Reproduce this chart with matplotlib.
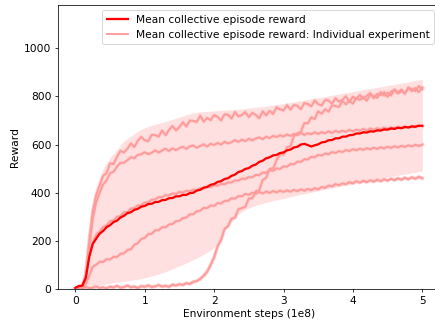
import numpy as np
import matplotlib.pyplot as plt

plt.rcParams['font.size'] = 11.2

# environment steps (x 1e8), logged every 5e6 steps
steps = np.arange(101) * 0.05

mean_reward = [
    5, 12, 14, 46, 133, 187, 209, 230, 241, 257,
    265, 278, 284, 297, 304, 315, 319, 329, 333, 342,
    345, 353, 354, 361, 362, 369, 370, 377, 378, 385,
    385, 391, 391, 398, 400, 409, 412, 421, 424, 433,
    436, 445, 448, 457, 460, 470, 475, 486, 490, 499,
    502, 512, 517, 528, 533, 543, 547, 555, 557, 565,
    567, 576, 579, 588, 591, 600, 603, 598, 592, 597,
    601, 609, 611, 618, 619, 626, 626, 633, 633, 639,
    640, 646, 646, 651, 650, 655, 654, 659, 658, 663,
    662, 667, 665, 670, 668, 673, 671, 675, 674, 678,
    678,
]

run_a = [
    0, 3, 8, 60, 200, 320, 390, 430, 470, 482,
    522, 518, 549, 574, 567, 583, 605, 590, 616, 632,
    618, 614, 641, 639, 633, 658, 639, 661, 677, 659,
    673, 693, 675, 700, 698, 694, 720, 695, 711, 701,
    723, 715, 700, 725, 724, 708, 735, 717, 723, 735,
    714, 732, 723, 709, 738, 721, 740, 727, 755, 746,
    742, 764, 745, 764, 761, 747, 772, 769, 759, 784,
    768, 762, 785, 783, 770, 793, 778, 786, 801, 777,
    799, 789, 806, 790, 802, 814, 793, 810, 805, 818,
    798, 820, 827, 811, 823, 812, 838, 822, 835, 818,
    837,
]

run_b = [
    0, 2, 6, 45, 170, 290, 360, 400, 434, 452,
    481, 487, 508, 525, 524, 535, 548, 543, 557, 560,
    568, 560, 566, 576, 567, 575, 583, 573, 584, 577,
    585, 591, 582, 593, 596, 587, 594, 601, 592, 603,
    598, 607, 600, 612, 605, 609, 619, 611, 621, 614,
    624, 617, 625, 630, 622, 633, 627, 636, 631, 639,
    633, 642, 636, 644, 639, 648, 640, 647, 643, 651,
    644, 652, 647, 655, 648, 657, 651, 658, 653, 661,
    655, 662, 657, 665, 658, 667, 661, 668, 663, 671,
    665, 672, 667, 674, 669, 676, 671, 678, 673, 680,
    676,
]

run_c = [
    0, 3, 5, 22, 55, 92, 101, 113, 112, 124,
    122, 134, 133, 146, 148, 162, 165, 184, 190, 208,
    212, 228, 229, 244, 244, 257, 256, 268, 270, 282,
    283, 295, 297, 310, 311, 323, 325, 337, 336, 347,
    345, 357, 355, 366, 366, 377, 375, 386, 385, 395,
    391, 400, 395, 403, 397, 405, 399, 407, 401, 409,
    403, 410, 404, 412, 406, 414, 408, 416, 410, 419,
    414, 424, 420, 430, 426, 436, 431, 439, 435, 444,
    439, 448, 442, 450, 444, 452, 446, 454, 448, 456,
    450, 458, 452, 460, 454, 462, 456, 464, 458, 466,
    460,
]

run_d = [
    0, 6, 2, 9, 3, 5, 11, 4, 7, 2,
    10, 6, 13, 5, 8, 14, 7, 10, 4, 12,
    9, 15, 8, 11, 16, 10, 13, 9, 18, 14,
    20, 17, 24, 21, 30, 33, 42, 55, 72, 100,
    132, 178, 204, 250, 261, 292, 296, 332, 336, 342,
    376, 377, 406, 410, 453, 462, 499, 501, 535, 560,
    558, 589, 593, 635, 647, 653, 689, 688, 713, 706,
    738, 728, 747, 737, 763, 760, 756, 781, 767, 783,
    770, 795, 785, 797, 782, 807, 802, 794, 818, 803,
    815, 804, 829, 817, 829, 812, 835, 831, 822, 843,
    830,
]

run_e = [
    0, 11, 13, 52, 148, 193, 225, 238, 258, 264,
    282, 285, 300, 303, 319, 320, 334, 336, 347, 348,
    359, 360, 371, 372, 382, 381, 390, 389, 397, 395,
    403, 401, 408, 406, 413, 411, 419, 417, 425, 423,
    431, 429, 437, 435, 443, 442, 451, 450, 459, 457,
    465, 464, 474, 473, 484, 483, 493, 491, 501, 499,
    509, 508, 519, 518, 529, 528, 539, 538, 549, 547,
    557, 554, 563, 560, 569, 565, 573, 569, 577, 573,
    581, 576, 583, 578, 585, 580, 587, 582, 589, 584,
    591, 586, 593, 588, 595, 590, 597, 592, 599, 594,
    600,
]

# spread across experiments, every 1e7 steps
band_steps = np.arange(51) * 0.1
band_lo = [
    0, 3, 8, 13, 18, 24, 28, 32, 36, 40,
    46, 54, 62, 72, 84, 96, 108, 122, 136, 152,
    172, 215, 262, 298, 322, 336, 347, 356, 363, 370,
    376, 383, 390, 396, 402, 408, 414, 420, 426, 432,
    438, 444, 450, 455, 460, 465, 470, 475, 480, 485,
    490,
]
band_hi = [
    8, 25, 250, 425, 500, 545, 580, 615, 635, 655,
    670, 680, 688, 696, 705, 714, 724, 732, 736, 738,
    740, 742, 744, 746, 748, 752, 755, 758, 762, 766,
    770, 775, 780, 785, 790, 795, 800, 805, 810, 815,
    820, 825, 830, 835, 840, 845, 850, 855, 860, 866,
    872,
]

runs = [run_a, run_b, run_c, run_d, run_e]

fig = plt.figure(figsize=(6.4, 4.78), dpi=68)
ax = fig.add_axes([58 / 435, 36 / 325, 381.4 / 435, 284 / 325])

ax.fill_between(band_steps, band_lo, band_hi, color='#ffe0e0', lw=0, zorder=1)

for r in runs:
    ax.plot(steps, r, color='#ffcdcd', lw=3.8, zorder=2)
for i, r in enumerate(runs):
    ax.plot(steps, r, color='#ff9a9a', lw=2, zorder=3,
            label='Mean collective episode reward: Individual experiment' if i == 0 else None)

ax.plot(steps, mean_reward, color='red', lw=2.4, zorder=4,
        label='Mean collective episode reward')

handles, labels = ax.get_legend_handles_labels()
ax.legend(handles[::-1], labels[::-1], loc='upper right')

ax.set_xlim(-0.25, 5.25)
ax.set_ylim(0, 1180)
ax.set_yticks([0, 200, 400, 600, 800, 1000])
ax.set_xlabel('Environment steps (1e8)')
ax.set_ylabel('Reward')

fig.savefig('out.png', dpi=68)
